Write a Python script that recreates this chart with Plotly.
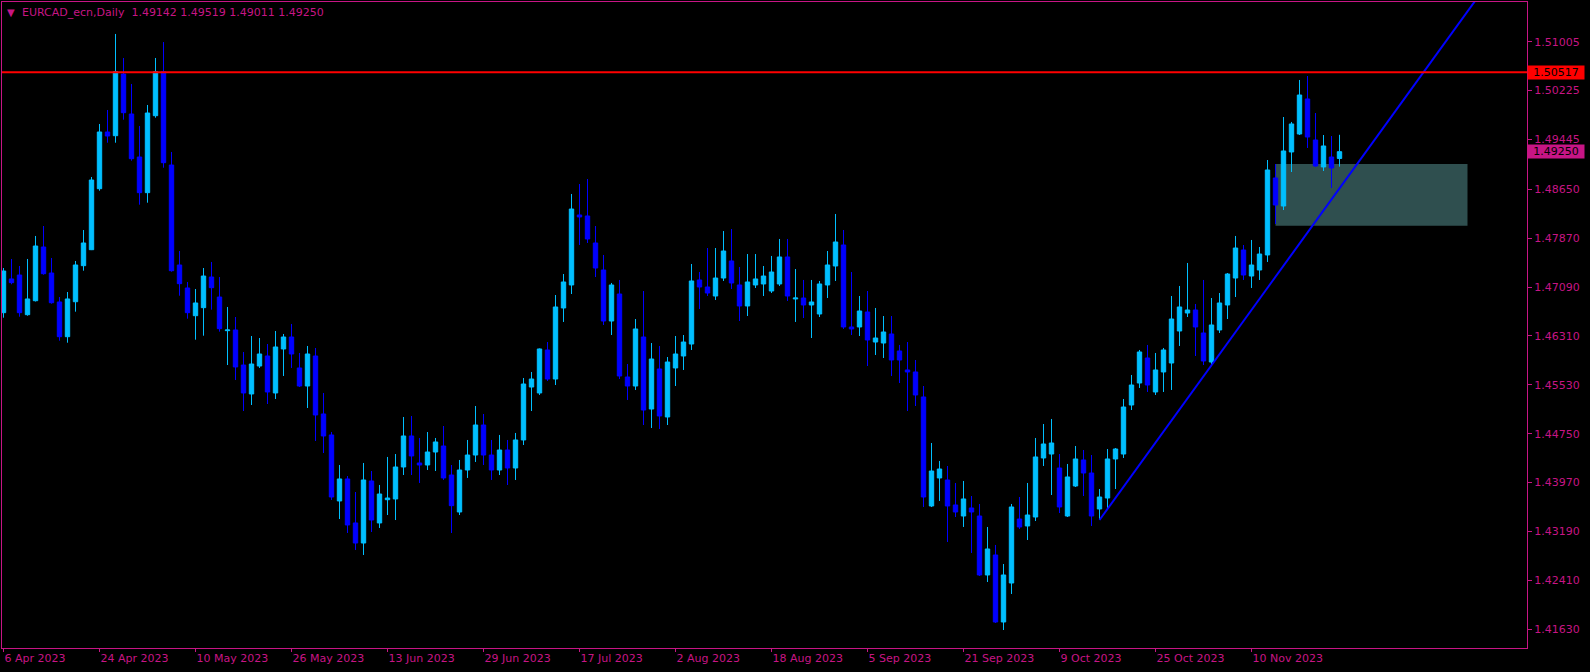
import plotly.graph_objects as go
import pandas as pd

SYMBOL = "EURCAD_ecn,Daily"
dates = pd.bdate_range("2023-04-06", periods=168)

open_ = [1.46681, 1.47219, 1.47282, 1.46649, 1.46872, 1.47729, 1.47314, 1.46852, 1.46298, 1.46856,
         1.47431, 1.47686, 1.48659, 1.49564, 1.49505, 1.50489, 1.49851, 1.49165, 1.48596, 1.49824,
         1.50526, 1.49037, 1.47442, 1.47075, 1.46633, 1.46761, 1.47250, 1.46931, 1.46394, 1.46405,
         1.45846, 1.45384, 1.45830, 1.45990, 1.45400, 1.46102, 1.46293, 1.45799, 1.45511, 1.45990,
         1.45065, 1.44730, 1.43677, 1.44028, 1.43326, 1.43006, 1.43996, 1.43326, 1.43697, 1.43709,
         1.44219, 1.44714, 1.44283, 1.44251, 1.44458, 1.44554, 1.44091, 1.43501, 1.44171, 1.44410,
         1.44889, 1.44410, 1.44171, 1.44490, 1.44203, 1.44650, 1.45495, 1.45400, 1.46086, 1.45623,
         1.46756, 1.47123, 1.48240, 1.48224, 1.47793, 1.47362, 1.46548, 1.46979, 1.45655, 1.45511,
         1.46293, 1.45144, 1.45783, 1.45017, 1.45799, 1.45990, 1.46181, 1.47203, 1.47091, 1.46947,
         1.47234, 1.47506, 1.47123, 1.46788, 1.47123, 1.47139, 1.47027, 1.47139, 1.47570, 1.46900,
         1.46915, 1.46804, 1.46660, 1.47123, 1.47426, 1.47761, 1.46453, 1.46453, 1.46692, 1.46213,
         1.46197, 1.46341, 1.46070, 1.45767, 1.45735, 1.45336, 1.43597, 1.44044, 1.44012, 1.43613,
         1.43437, 1.43565, 1.43437, 1.42496, 1.42815, 1.41746, 1.42368, 1.43389, 1.43278, 1.43421,
         1.44363, 1.44426, 1.44203, 1.43437, 1.43916, 1.44331, 1.44123, 1.43549, 1.43724, 1.44347,
         1.44426, 1.45208, 1.45559, 1.45958, 1.45416, 1.45735, 1.45878, 1.46389, 1.46676, 1.46724,
         1.46357, 1.45894, 1.46405, 1.46804, 1.47234, 1.47681, 1.47266, 1.47362, 1.47602, 1.48830,
         1.48383, 1.49245, 1.49532, 1.50091, 1.49436, 1.49006, 1.49165, 1.49142]

high = [1.47394, 1.47538, 1.47426, 1.47538, 1.47905, 1.48064, 1.47554, 1.46931, 1.47011, 1.47506,
        1.48000, 1.48846, 1.49692, 1.49915, 1.51128, 1.50745, 1.50330, 1.49660, 1.49995, 1.50745,
        1.50999, 1.49245, 1.47665, 1.47171, 1.47059, 1.47394, 1.47490, 1.47250, 1.46772, 1.46612,
        1.46054, 1.46309, 1.46277, 1.46181, 1.46389, 1.46341, 1.46501, 1.46038, 1.46150, 1.46118,
        1.45400, 1.44777, 1.44251, 1.44075, 1.43820, 1.44283, 1.44155, 1.43932, 1.44379, 1.44426,
        1.45017, 1.45033, 1.44682, 1.44777, 1.44682, 1.44873, 1.44251, 1.44331, 1.44650, 1.45192,
        1.45065, 1.44650, 1.44730, 1.44650, 1.44762, 1.45639, 1.45735, 1.46110, 1.46213, 1.46963,
        1.47298, 1.48575, 1.48734, 1.48814, 1.48064, 1.47602, 1.47155, 1.47203, 1.45862, 1.46580,
        1.47027, 1.46197, 1.46150, 1.45974, 1.46309, 1.46325, 1.47458, 1.47330, 1.47713, 1.47713,
        1.47984, 1.48016, 1.47410, 1.47617, 1.47617, 1.47426, 1.47586, 1.47857, 1.47857, 1.47378,
        1.47203, 1.47203, 1.47187, 1.47665, 1.48256, 1.48000, 1.47330, 1.46947, 1.47027, 1.46756,
        1.46628, 1.46628, 1.46166, 1.46213, 1.45926, 1.45511, 1.44602, 1.44315, 1.44235, 1.43964,
        1.43996, 1.43756, 1.43629, 1.43262, 1.42975, 1.42671, 1.43629, 1.43740, 1.43964, 1.44682,
        1.44905, 1.44985, 1.44426, 1.44267, 1.44554, 1.44490, 1.44410, 1.43868, 1.44506, 1.44522,
        1.45304, 1.45687, 1.46086, 1.46166, 1.46038, 1.46118, 1.46947, 1.47107, 1.47474, 1.46820,
        1.47203, 1.46915, 1.46995, 1.47314, 1.47905, 1.47761, 1.47841, 1.47729, 1.49117, 1.49053,
        1.49803, 1.49724, 1.50394, 1.50457, 1.49867, 1.49516, 1.49500, 1.49519]

low = [1.46601, 1.47134, 1.46617, 1.46633, 1.46860, 1.47287, 1.46825, 1.46234, 1.46202, 1.46697,
       1.47351, 1.47680, 1.48627, 1.49393, 1.49393, 1.49760, 1.49106, 1.48404, 1.48436, 1.49792,
       1.48994, 1.47335, 1.46952, 1.46585, 1.46250, 1.46314, 1.46729, 1.46378, 1.45846, 1.45607,
       1.45112, 1.45208, 1.45799, 1.45224, 1.45304, 1.45671, 1.45799, 1.45495, 1.45160, 1.44634,
       1.44442, 1.43693, 1.43389, 1.43166, 1.42895, 1.42815, 1.43182, 1.43246, 1.43453, 1.43373,
       1.44091, 1.44091, 1.43964, 1.44171, 1.44155, 1.44012, 1.43166, 1.43453, 1.44044, 1.44299,
       1.44251, 1.44012, 1.44091, 1.43932, 1.44012, 1.44570, 1.45112, 1.45368, 1.45591, 1.45527,
       1.46533, 1.46979, 1.47761, 1.47793, 1.47250, 1.46485, 1.46325, 1.45623, 1.45288, 1.45448,
       1.44889, 1.44841, 1.44825, 1.44889, 1.45511, 1.45767, 1.46086, 1.46740, 1.46947, 1.46884,
       1.47187, 1.47059, 1.46548, 1.46628, 1.47075, 1.46947, 1.46995, 1.47107, 1.46868, 1.46533,
       1.46596, 1.46277, 1.46612, 1.46915, 1.47187, 1.46421, 1.46325, 1.46309, 1.45830, 1.46006,
       1.45958, 1.45671, 1.45559, 1.45112, 1.45192, 1.43581, 1.43580, 1.43677, 1.43022, 1.43421,
       1.43262, 1.42847, 1.42480, 1.42384, 1.41730, 1.41618, 1.42193, 1.43230, 1.43054, 1.43357,
       1.44235, 1.43772, 1.43485, 1.43421, 1.43900, 1.43756, 1.43278, 1.43373, 1.43549, 1.43868,
       1.44363, 1.45128, 1.45480, 1.45416, 1.45368, 1.45416, 1.45448, 1.46150, 1.46612, 1.45990,
       1.45846, 1.45846, 1.46357, 1.46580, 1.46931, 1.47203, 1.47075, 1.47203, 1.47490, 1.48096,
       1.48319, 1.48926, 1.49516, 1.49309, 1.49006, 1.48942, 1.48670, 1.49011]

close = [1.47346, 1.47160, 1.46681, 1.46900, 1.47745, 1.47303, 1.46840, 1.46298, 1.46900, 1.47442,
         1.47793, 1.48798, 1.49564, 1.49500, 1.50526, 1.49872, 1.49138, 1.48596, 1.49867, 1.50526,
         1.49074, 1.47351, 1.47144, 1.46681, 1.46836, 1.47266, 1.47080, 1.46426, 1.46405, 1.45815,
         1.45400, 1.45862, 1.46022, 1.45416, 1.46134, 1.46293, 1.46022, 1.45511, 1.46022, 1.45049,
         1.44714, 1.43740, 1.44028, 1.43294, 1.43006, 1.44012, 1.43373, 1.43788, 1.43724, 1.44219,
         1.44714, 1.44395, 1.44251, 1.44458, 1.44618, 1.44044, 1.43602, 1.44171, 1.44410, 1.44889,
         1.44410, 1.44171, 1.44490, 1.44203, 1.44650, 1.45543, 1.45623, 1.46102, 1.45623, 1.46772,
         1.47171, 1.48335, 1.48208, 1.47857, 1.47394, 1.46548, 1.47123, 1.45671, 1.45511, 1.46421,
         1.45128, 1.45942, 1.45033, 1.45894, 1.46022, 1.46213, 1.47187, 1.47091, 1.46995, 1.47234,
         1.47665, 1.47155, 1.46788, 1.47171, 1.47219, 1.47266, 1.47330, 1.47570, 1.46947, 1.46915,
         1.46804, 1.46852, 1.47139, 1.47442, 1.47809, 1.46453, 1.46421, 1.46708, 1.46245, 1.46277,
         1.46373, 1.45926, 1.45926, 1.45735, 1.45368, 1.43740, 1.44155, 1.44187, 1.43597, 1.43501,
         1.43709, 1.43501, 1.42496, 1.42911, 1.41746, 1.42496, 1.43581, 1.43262, 1.43453, 1.44379,
         1.44586, 1.44602, 1.43581, 1.44060, 1.44347, 1.44123, 1.43437, 1.43740, 1.44347, 1.44506,
         1.45176, 1.45527, 1.46054, 1.45527, 1.45767, 1.46086, 1.46580, 1.46772, 1.46724, 1.46453,
         1.45910, 1.46485, 1.46836, 1.47298, 1.47713, 1.47282, 1.47442, 1.47617, 1.48958, 1.48399,
         1.49261, 1.49692, 1.50154, 1.49484, 1.49022, 1.49341, 1.48990, 1.49250]

tick_dates = ["2023-04-06", "2023-04-24", "2023-05-10", "2023-05-26", "2023-06-13", "2023-06-29",
              "2023-07-17", "2023-08-02", "2023-08-18", "2023-09-05", "2023-09-21", "2023-10-09",
              "2023-10-25", "2023-11-10"]
tick_labels = ["6 Apr 2023", "24 Apr 2023", "10 May 2023", "26 May 2023", "13 Jun 2023", "29 Jun 2023",
               "17 Jul 2023", "2 Aug 2023", "18 Aug 2023", "5 Sep 2023", "21 Sep 2023", "9 Oct 2023",
               "25 Oct 2023", "10 Nov 2023"]
price_ticks = [1.51005, 1.50225, 1.49445, 1.48650, 1.47870, 1.47090, 1.46310,
               1.45530, 1.44750, 1.43970, 1.43190, 1.42410, 1.41630]

resistance_level = 1.50517
zone_bars = [159, 183]
zone_prices = [1.48069, 1.49053]
trend_bars = [137, 177.5]
trend_prices = [1.43373, 1.50517]

BULL = "#00BFFF"
BEAR = "#0000FF"
FRAME = "#C71585"
FONT = "DejaVu Sans"

idx = list(range(len(dates)))
date_str = [d.strftime("%Y-%m-%d") for d in dates]
tickvals = [date_str.index(d) for d in tick_dates]

fig = go.Figure()
fig.add_trace(go.Candlestick(
    x=idx, open=open_, high=high, low=low, close=close,
    increasing=dict(line=dict(color=BULL, width=1), fillcolor=BULL),
    decreasing=dict(line=dict(color=BEAR, width=1), fillcolor=BEAR),
    whiskerwidth=0, hoverinfo="skip", showlegend=False,
))

slope = (trend_prices[1] - trend_prices[0]) / (trend_bars[1] - trend_bars[0])
x_far = 195
fig.add_trace(go.Scatter(
    x=[trend_bars[0], x_far],
    y=[trend_prices[0], trend_prices[0] + slope * (x_far - trend_bars[0])],
    mode="lines", line=dict(color="#0000FF", width=2), hoverinfo="skip", showlegend=False,
))

fig.add_shape(type="rect", xref="x", yref="y", x0=zone_bars[0], x1=zone_bars[1],
              y0=zone_prices[0], y1=zone_prices[1], fillcolor="#2F4F4F",
              line=dict(width=0), layer="below")
fig.add_shape(type="line", xref="paper", yref="y", x0=0, x1=1,
              y0=resistance_level, y1=resistance_level,
              line=dict(color="#FF0000", width=2), layer="above")

last = len(close) - 1
header = (f"{SYMBOL}\u00a0\u00a0{open_[last]:.5f} {high[last]:.5f} "
          f"{low[last]:.5f} {close[last]:.5f}")
fig.add_annotation(xref="paper", yref="paper", x=0, y=1, xanchor="left", yanchor="middle",
                   xshift=18, yshift=-10, text=header, showarrow=False,
                   font=dict(family=FONT, size=11, color=FRAME))
fig.add_annotation(xref="paper", yref="paper", x=0, y=1, xanchor="center", yanchor="middle",
                   xshift=9, yshift=-10, text="▼", showarrow=False,
                   font=dict(family=FONT, size=10, color=FRAME))

for val, bg in [(resistance_level, "#FF0000"), (close[last], FRAME)]:
    fig.add_annotation(xref="paper", yref="y", x=1, y=val, xanchor="left", yanchor="middle",
                       text=f"{val:.5f}", showarrow=False, width=54, height=11, borderpad=1,
                       bgcolor=bg, font=dict(family=FONT, size=11, color="#000000"))

fig.update_layout(
    width=1590, height=672,
    margin=dict(l=2, r=63, t=2, b=24),
    paper_bgcolor="#000000", plot_bgcolor="#000000",
    showlegend=False, hovermode=False,
    boxgap=0.45, boxgroupgap=0,
    font=dict(family=FONT, size=11, color=FRAME),
    xaxis=dict(range=[-0.1875, 190.4375], rangeslider=dict(visible=False),
               showgrid=False, zeroline=False, tickmode="array",
               tickvals=tickvals, ticktext=tick_labels, ticks="outside", ticklen=3,
               tickcolor=FRAME, ticklabelposition="outside right",
               showline=True, linecolor=FRAME, linewidth=1, mirror=True,
               tickfont=dict(family=FONT, size=11, color=FRAME)),
    yaxis=dict(side="right", range=[1.41331, 1.51638], showgrid=False, zeroline=False,
               tickmode="array", tickvals=price_ticks,
               ticktext=[f"{v:.5f}" for v in price_ticks], ticks="outside", ticklen=4,
               tickcolor=FRAME, showline=True, linecolor=FRAME, linewidth=1, mirror=True,
               tickfont=dict(family=FONT, size=11, color=FRAME)),
)

fig.write_html("out.html", config={"displayModeBar": False},
               post_script="document.body.style.margin='0';document.body.style.overflow='hidden';")
